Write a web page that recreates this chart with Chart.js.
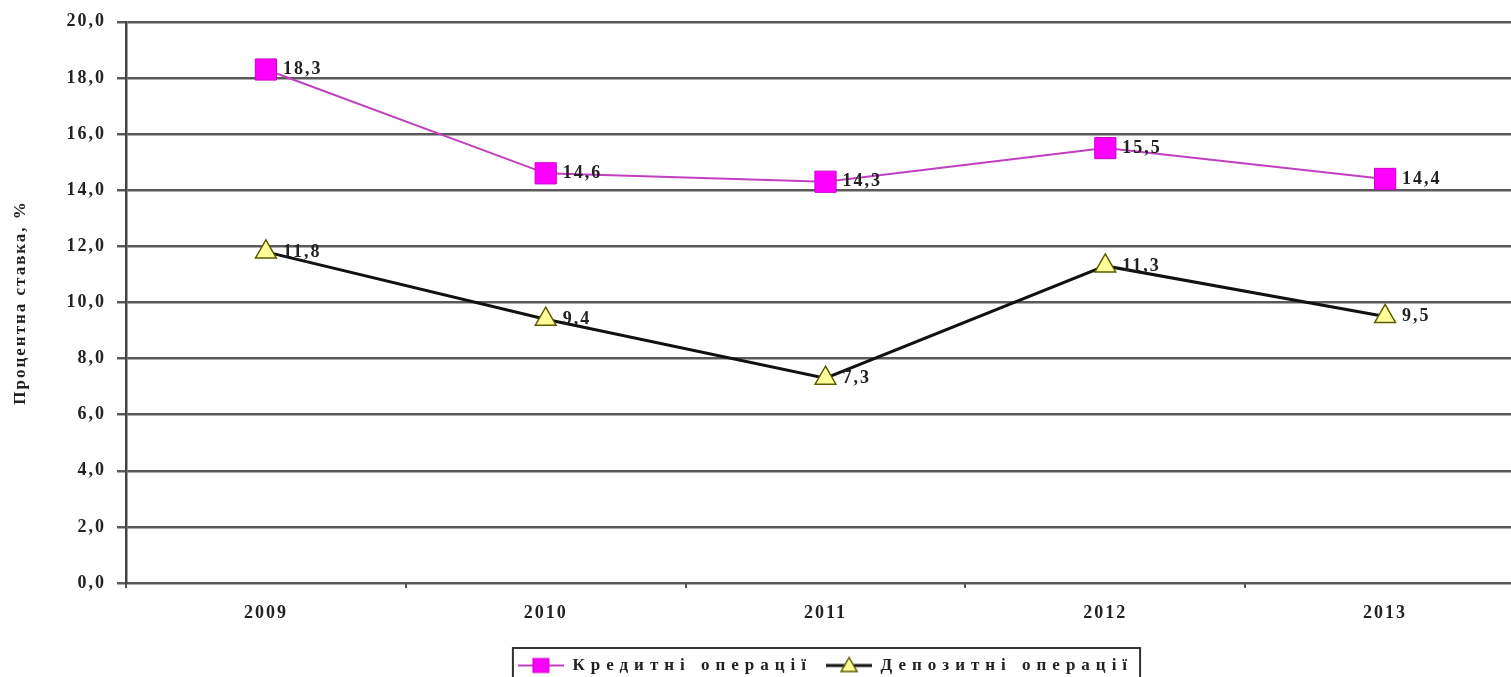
<!DOCTYPE html>
<html>
<head>
<meta charset="utf-8">
<script src="https://cdn.jsdelivr.net/npm/chart.js@4"></script>
<style>
html,body{margin:0;padding:0;background:#fff;overflow:hidden;width:1511px;height:677px;}
#clip{position:relative;width:1511px;height:677px;overflow:hidden;}
canvas{display:block;position:absolute;left:0;top:0;}
</style>
</head>
<body>
<div id="clip"><canvas id="c" width="1541" height="677" style="width:1541px;height:677px"></canvas></div>
<script>
const years = ['2009', '2010', '2011', '2012', '2013'];
const creditRates = [18.3, 14.6, 14.3, 15.5, 14.4];
const depositRates = [11.8, 9.4, 7.3, 11.3, 9.5];
const seriesNames = ['Кредитні операції', 'Депозитні операції'];
const yAxisTitle = 'Процентна ставка, %';
const yMin = 0, yMax = 20, yStep = 2;

const FONT = "'Liberation Serif', 'Times New Roman', serif";
const SPACING = '2px';
const LEGEND_SPACING = '6px';
const fmt = v => v.toFixed(1).replace('.', ',');

function legendIcon(kind) {
  const c = document.createElement('canvas');
  c.width = 46; c.height = 20;
  const g = c.getContext('2d');
  g.beginPath();
  g.moveTo(0, 10); g.lineTo(46, 10);
  g.strokeStyle = kind === 'rect' ? '#c040c0' : '#111';
  g.lineWidth = kind === 'rect' ? 2 : 3;
  g.stroke();
  if (kind === 'rect') {
    g.fillStyle = '#ff00ff'; g.strokeStyle = '#cc00cc'; g.lineWidth = 1;
    g.fillRect(15, 3, 16, 14); g.strokeRect(15, 3, 16, 14);
  } else {
    g.beginPath();
    g.moveTo(23, 2); g.lineTo(31, 16); g.lineTo(15, 16); g.closePath();
    g.fillStyle = '#ffff99'; g.fill();
    g.strokeStyle = '#5a5a00'; g.lineWidth = 1.5; g.stroke();
  }
  return c;
}
const icons = [legendIcon('rect'), legendIcon('tri')];

function patchLegend(chart) {
  const lg = chart.legend;
  if (!lg || lg._spacingPatched) return;
  lg._spacingPatched = true;
  const origFit = lg.fit.bind(lg);
  const origDraw = lg.draw.bind(lg);
  lg.fit = function () {
    const prev = chart.ctx.letterSpacing;
    chart.ctx.letterSpacing = LEGEND_SPACING;
    origFit();
    chart.ctx.letterSpacing = prev;
  };
  lg.draw = function () {
    const prev = chart.ctx.letterSpacing;
    chart.ctx.letterSpacing = LEGEND_SPACING;
    origDraw();
    chart.ctx.letterSpacing = prev;
  };
}

const spacingPlugin = {
  id: 'spacing',
  beforeUpdate(chart) { chart.ctx.letterSpacing = SPACING; patchLegend(chart); },
  beforeLayout(chart) { chart.ctx.letterSpacing = SPACING; patchLegend(chart); },
  beforeDraw(chart) { chart.ctx.letterSpacing = SPACING; }
};

const valueLabels = {
  id: 'valueLabels',
  afterDatasetsDraw(chart) {
    const ctx = chart.ctx;
    ctx.save();
    ctx.font = 'bold 18px ' + FONT;
    ctx.fillStyle = '#222';
    ctx.textAlign = 'left';
    ctx.textBaseline = 'middle';
    chart.data.datasets.forEach((ds, i) => {
      const meta = chart.getDatasetMeta(i);
      meta.data.forEach((pt, j) => {
        ctx.fillText(fmt(ds.data[j]), pt.x + 17, pt.y);
      });
    });
    ctx.restore();
  }
};

const legendBox = {
  id: 'legendBox',
  afterDraw(chart) {
    const lg = chart.legend;
    if (!lg || !lg.legendHitBoxes || !lg.legendHitBoxes.length) return;
    let x0 = Infinity, x1 = -Infinity, y0 = Infinity;
    lg.legendHitBoxes.forEach(b => {
      x0 = Math.min(x0, b.left); x1 = Math.max(x1, b.left + b.width);
      y0 = Math.min(y0, b.top);
    });
    const ctx = chart.ctx;
    ctx.save();
    ctx.strokeStyle = '#333';
    ctx.lineWidth = 2;
    ctx.strokeRect(x0 - 5, y0 - 9, x1 - x0 + 12, 60);
    ctx.restore();
  }
};

new Chart(document.getElementById('c'), {
  type: 'line',
  data: {
    labels: years,
    datasets: [
      {
        label: seriesNames[0],
        data: creditRates,
        borderColor: '#c040c0',
        borderWidth: 2,
        pointStyle: 'rect',
        pointRadius: 15,
        pointHoverRadius: 15,
        pointBackgroundColor: '#ff00ff',
        pointBorderColor: '#cc00cc',
        pointBorderWidth: 1,
        tension: 0,
        fill: false
      },
      {
        label: seriesNames[1],
        data: depositRates,
        borderColor: '#111',
        borderWidth: 3,
        pointStyle: 'triangle',
        pointRadius: 12,
        pointHoverRadius: 12,
        pointBackgroundColor: '#ffff99',
        pointBorderColor: '#5a5a00',
        pointBorderWidth: 1.5,
        tension: 0,
        fill: false
      }
    ]
  },
  options: {
    responsive: false,
    devicePixelRatio: 1,
    animation: false,
    layout: { padding: { top: 0, left: 0, right: 0, bottom: -7 } },
    plugins: {
      tooltip: { enabled: false },
      legend: {
        position: 'bottom',
        fullSize: false,
        labels: {
          usePointStyle: true,
          pointStyleWidth: 46,
          padding: 14,
          color: '#222',
          font: { family: FONT, size: 17, weight: 'bold' },
          generateLabels(chart) {
            return chart.data.datasets.map((ds, i) => ({
              text: ds.label,
              pointStyle: icons[i],
              fillStyle: 'transparent',
              strokeStyle: 'transparent',
              lineWidth: 0,
              fontColor: '#222',
              datasetIndex: i,
              hidden: false
            }));
          }
        }
      }
    },
    scales: {
      x: {
        offset: true,
        grid: { display: true, drawOnChartArea: false, drawTicks: true, tickLength: 5, color: '#555', lineWidth: 2, offset: true },
        border: { display: true, color: '#555', width: 2 },
        ticks: { color: '#222', padding: 15, font: { family: FONT, size: 18, weight: 'bold' }, maxRotation: 0 },
        afterFit(scale) { scale.height = 60; }
      },
      y: {
        min: yMin, max: yMax,
        ticks: {
          stepSize: yStep,
          color: '#222',
          padding: 11,
          font: { family: FONT, size: 18, weight: 'bold' },
          callback: v => fmt(v)
        },
        grid: { color: '#5a5a5a', lineWidth: 2.5, tickLength: 9, drawTicks: true },
        border: { display: true, color: '#444', width: 2.5 },
        title: {
          display: true,
          text: yAxisTitle,
          color: '#222',
          padding: { top: 10, bottom: 0 },
          font: { family: FONT, size: 17, weight: 'bold' }
        },
        afterFit(scale) { scale.width = 126; }
      }
    }
  },
  plugins: [spacingPlugin, valueLabels, legendBox]
});
</script>
</body>
</html>
